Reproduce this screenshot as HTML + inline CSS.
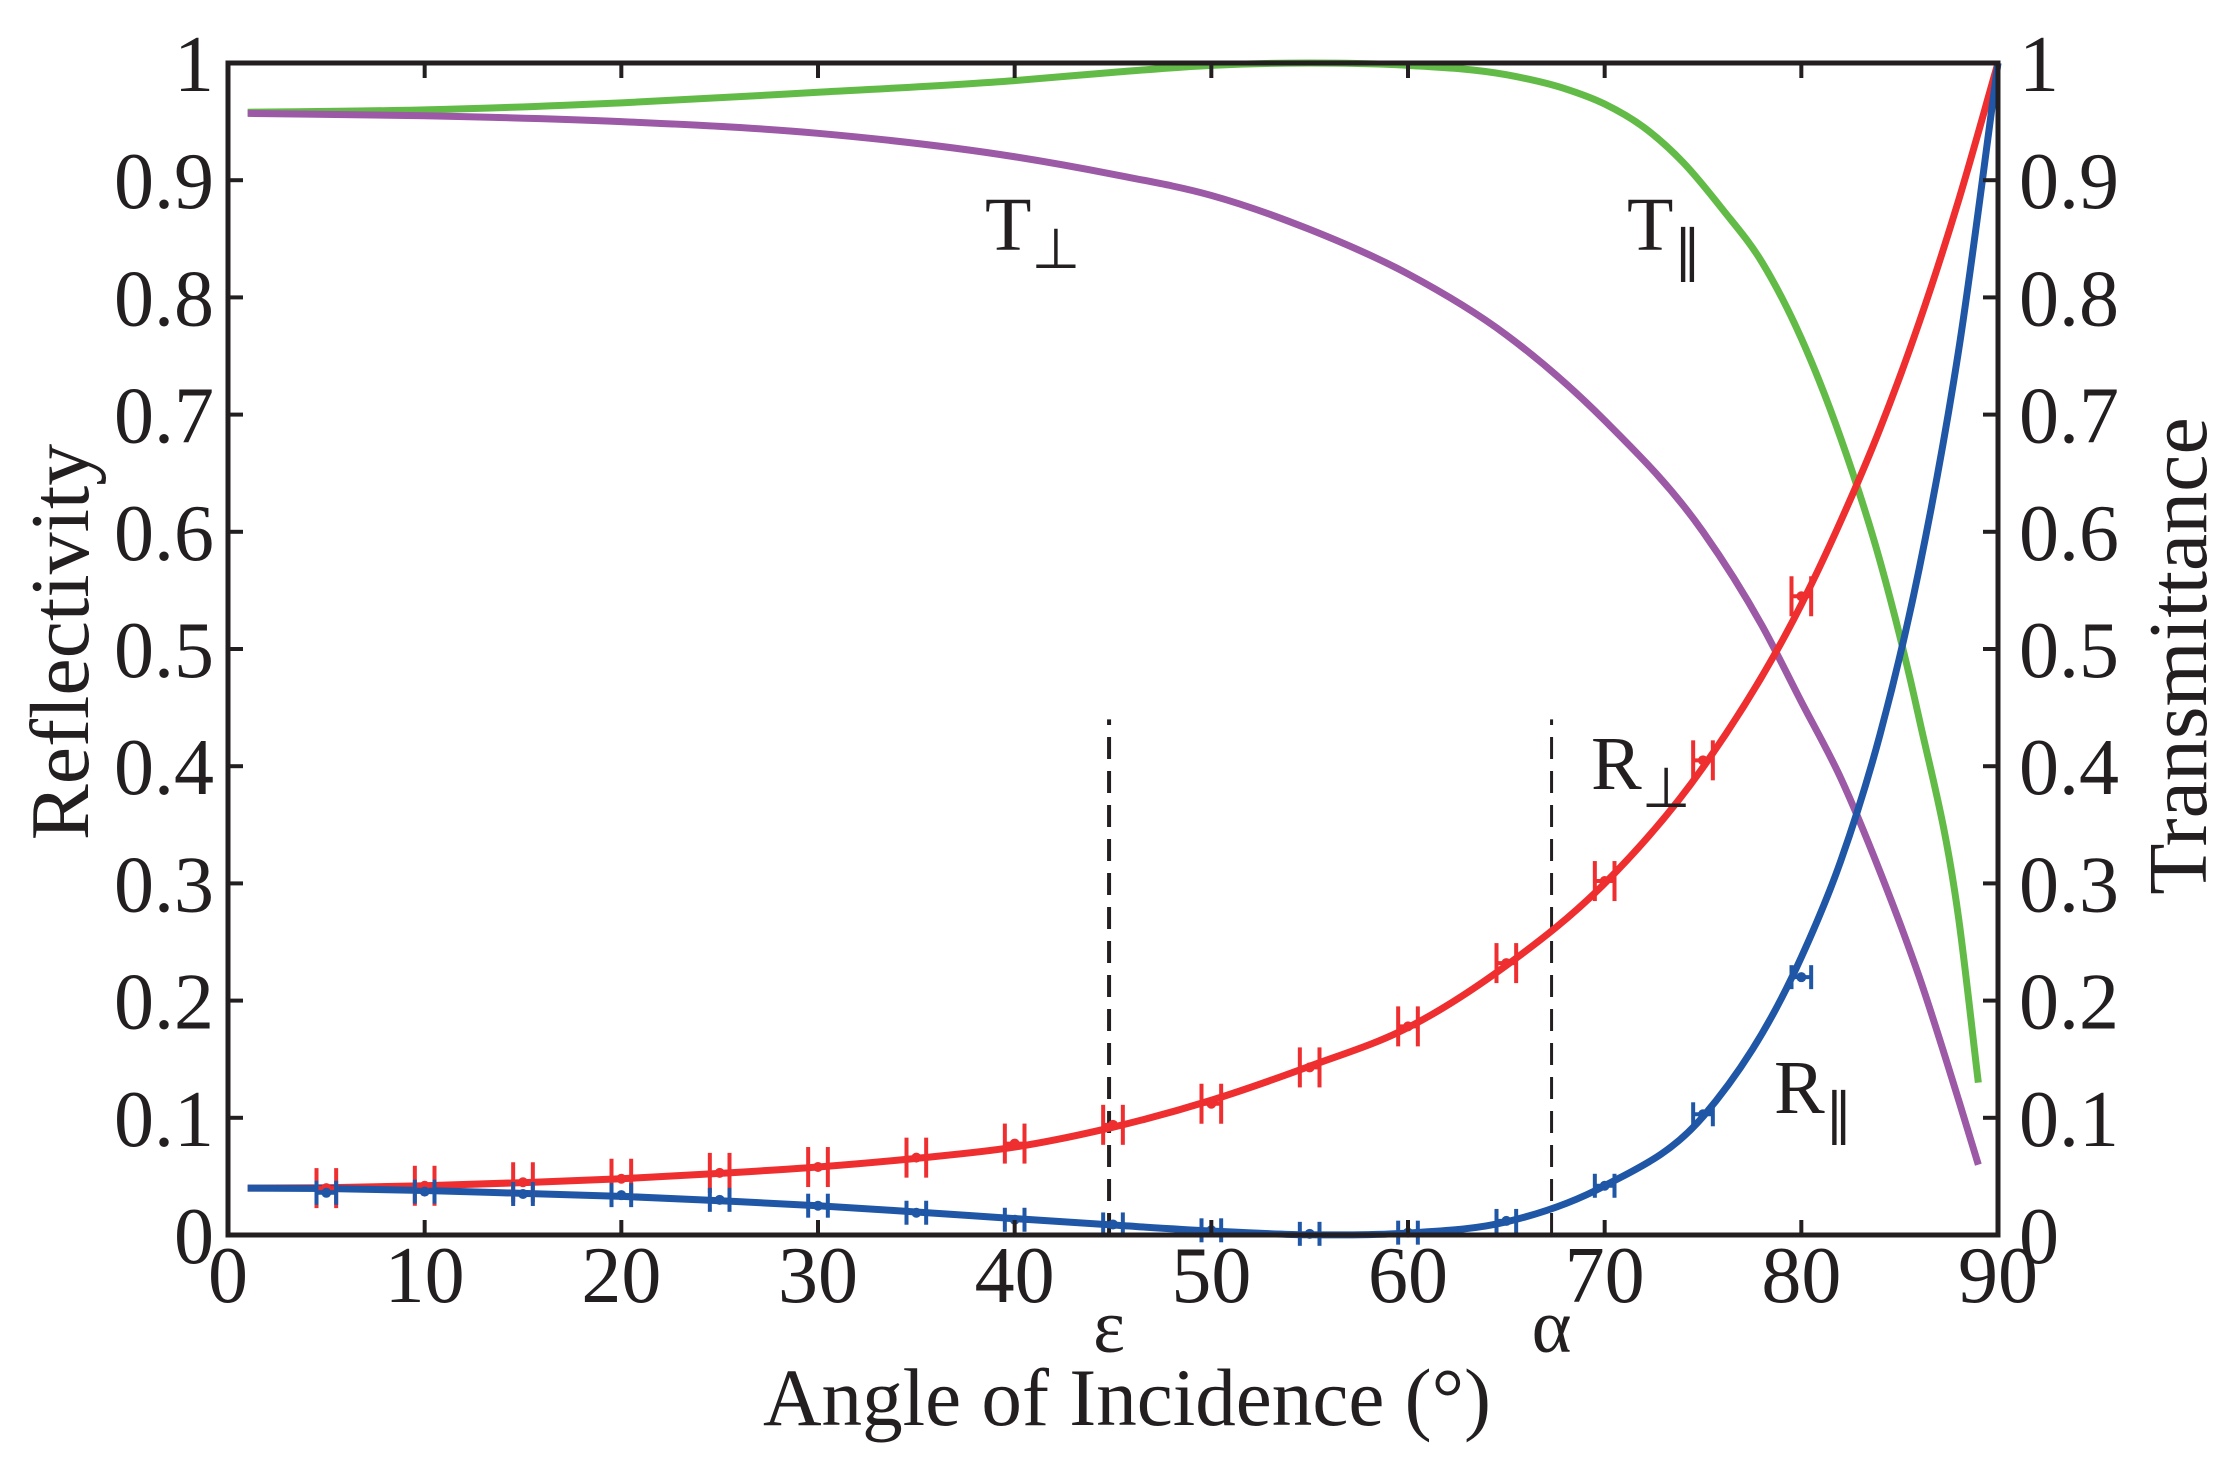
<!DOCTYPE html>
<html><head><meta charset="utf-8"><style>
html,body{margin:0;padding:0;background:#fff;}
svg{display:block;font-family:"Liberation Serif",serif;}
</style></head><body>
<svg id="chart" width="2237" height="1468" viewBox="0 0 2237 1468" xmlns="http://www.w3.org/2000/svg">
<g id="grid"></g>
<g id="series"></g>
<g id="axes"></g>
<text x="0" y="0" font-size="84" text-anchor="middle" transform="translate(88,642) rotate(-90)" fill="#231f20">Reflectivity</text>
<text x="0" y="0" font-size="84" text-anchor="middle" transform="translate(2206,656) rotate(-90)" fill="#231f20">Transmittance</text>
<text x="1127" y="1425" font-size="82" text-anchor="middle" textLength="728" lengthAdjust="spacingAndGlyphs" fill="#231f20">Angle of Incidence (°)</text>
<text x="985" y="250" font-size="76" fill="#231f20">T<tspan font-size="56" dy="18">⊥</tspan></text>
<text x="1627" y="250" font-size="76" fill="#231f20">T<tspan font-size="56" dy="20">∥</tspan></text>
<text x="1591" y="789" font-size="76" fill="#231f20">R<tspan font-size="56" dy="18">⊥</tspan></text>
<text x="1774" y="1113" font-size="76" fill="#231f20">R<tspan font-size="56" dy="20">∥</tspan></text>
</svg>
<script>
const curveX = [1,5,10,15,20,25,30,35,40,45,50,55,60,65,70,75,80,82,84,86,88,90];
const rPerpCurve = [0.040,0.0403,0.042,0.0447,0.048,0.0526,0.058,0.0654,0.075,0.092,0.115,0.144,0.177,0.230,0.300,0.399,0.538,0.609,0.688,0.779,0.883,1.0];
const rParCurve = [0.040,0.0397,0.038,0.0355,0.033,0.0292,0.025,0.0196,0.014,0.0085,0.0034,0.0002,0.0017,0.0112,0.042,0.101,0.237,0.319,0.427,0.569,0.755,1.0];
const tPerpX = [1,10,20,30,40,45,50,55,60,65,70,75,78,80,82,84,86,88,89];
const tPerp = [0.957,0.955,0.95,0.94,0.92,0.905,0.887,0.858,0.82,0.768,0.695,0.60,0.52,0.455,0.39,0.31,0.22,0.115,0.06];
const tParX = [1,10,20,30,40,45,50,55,60,65,68,70,72,74,76,78,80,82,84,86,88,89];
const tPar = [0.958,0.96,0.966,0.975,0.985,0.992,0.998,1.0,0.998,0.99,0.978,0.965,0.945,0.915,0.875,0.83,0.765,0.68,0.575,0.44,0.27,0.13];
const pointX = [5,10,15,20,25,30,35,40,45,50,55,60,65,70,75,80];
const rPerpPts = [0.040,0.042,0.045,0.048,0.053,0.058,0.066,0.078,0.094,0.112,0.143,0.178,0.232,0.302,0.405,0.545];
const rParPts = [0.036,0.037,0.035,0.034,0.030,0.025,0.019,0.013,0.009,0.004,0.001,0.002,0.012,0.042,0.103,0.220];
const xTicks = [0,10,20,30,40,50,60,70,80,90];
const yTicks = [0,0.1,0.2,0.3,0.4,0.5,0.6,0.7,0.8,0.9,1];
const yTickLabels = ["0","0.1","0.2","0.3","0.4","0.5","0.6","0.7","0.8","0.9","1"];
const markerX = [44.8,67.3];
const markerLabels = ["ε","α"];
const markerTop = 0.44;

const L=228,R=1998,T=63,B=1235;
const sx=v=>L+(v/90)*(R-L);
const sy=v=>B-v*(B-T);
const NS="http://www.w3.org/2000/svg";
function mk(tag,parent,attrs){const e=document.createElementNS(NS,tag);for(const k in attrs)e.setAttribute(k,attrs[k]);parent.appendChild(e);return e;}
const ser=document.getElementById('series');
const axes=document.getElementById('axes');

function smoothPath(xs,ys){
  const n=xs.length, s=[], m=[];
  for(let i=0;i<n-1;i++) s.push((ys[i+1]-ys[i])/(xs[i+1]-xs[i]));
  for(let i=0;i<n;i++){
    if(i==0) m.push(s[0]); else if(i==n-1) m.push(s[n-2]);
    else { const h0=xs[i]-xs[i-1],h1=xs[i+1]-xs[i]; m.push((s[i-1]*h1+s[i]*h0)/(h0+h1)); }
  }
  let d="M"+sx(xs[0])+","+sy(ys[0]);
  for(let i=0;i<n-1;i++){
    const h=xs[i+1]-xs[i];
    d+=" C"+sx(xs[i]+h/3)+","+sy(ys[i]+m[i]*h/3)+" "+sx(xs[i+1]-h/3)+","+sy(ys[i+1]-m[i+1]*h/3)+" "+sx(xs[i+1])+","+sy(ys[i+1]);
  }
  return d;
}
markerX.forEach((m,i)=>{
  const ln=mk('line',ser,{x1:sx(m),x2:sx(m),y1:sy(0),y2:sy(markerTop),stroke:'#231f20','stroke-width':i==0?4:3,'stroke-dasharray':'22,12'});
  
  
  const t=mk('text',axes,{x:sx(m),y:1352,'font-size':76,'text-anchor':'middle',fill:'#231f20'});
  t.textContent=markerLabels[i];
  
  
});
const curves=[[tParX,tPar,'#62bb46','t-par-curve'],[tPerpX,tPerp,'#9b59a6','t-perp-curve'],[curveX,rPerpCurve,'#ee2e2f','r-perp-curve'],[curveX,rParCurve,'#1f56a6','r-par-curve']];
curves.forEach(c=>{
  const p=mk('path',ser,{d:smoothPath(c[0],c[1]),fill:'none',stroke:c[2],'stroke-width':7,'stroke-linejoin':'round'});
  
  
});
function points(vals,color,h,name){
  pointX.forEach((x,i)=>{
    const g=mk('g',ser,{});
    
    
    const cx=sx(x),cy=sy(vals[i]);
    const dx=sx(0.5)-sx(0);
    mk('line',g,{x1:cx-dx,x2:cx+dx,y1:cy,y2:cy,stroke:color,'stroke-width':4});
    mk('line',g,{x1:cx-dx,x2:cx-dx,y1:cy-h,y2:cy+h,stroke:color,'stroke-width':4});
    mk('line',g,{x1:cx+dx,x2:cx+dx,y1:cy-h,y2:cy+h,stroke:color,'stroke-width':4});
    mk('circle',g,{cx:cx,cy:cy,r:5,fill:color});
  });
}
points(rPerpPts,'#ee2e2f',20,'r-perp');
points(rParPts,'#1f56a6',12,'r-par');
const fr=mk('rect',axes,{x:L,y:T,width:R-L,height:B-T,fill:'none',stroke:'#231f20','stroke-width':5});


xTicks.forEach(v=>{
  mk('line',axes,{x1:sx(v),x2:sx(v),y1:B,y2:B-15,stroke:'#231f20','stroke-width':4});
  mk('line',axes,{x1:sx(v),x2:sx(v),y1:T,y2:T+15,stroke:'#231f20','stroke-width':4});
  const t=mk('text',axes,{x:sx(v),y:1302,'font-size':80,'text-anchor':'middle',fill:'#231f20'});
  t.textContent=String(v);
  
  
});
yTicks.forEach((v,i)=>{
  mk('line',axes,{x1:L,x2:L+15,y1:sy(v),y2:sy(v),stroke:'#231f20','stroke-width':4});
  mk('line',axes,{x1:R,x2:R-15,y1:sy(v),y2:sy(v),stroke:'#231f20','stroke-width':4});
  const t=mk('text',axes,{x:214,y:sy(v)+28,'font-size':80,'text-anchor':'end',fill:'#231f20'});
  t.textContent=yTickLabels[i];
  
  
  const t2=mk('text',axes,{x:2019,y:sy(v)+28,'font-size':80,'text-anchor':'start',fill:'#231f20'});
  t2.textContent=yTickLabels[i];
  
  
});
</script>
</body></html>
